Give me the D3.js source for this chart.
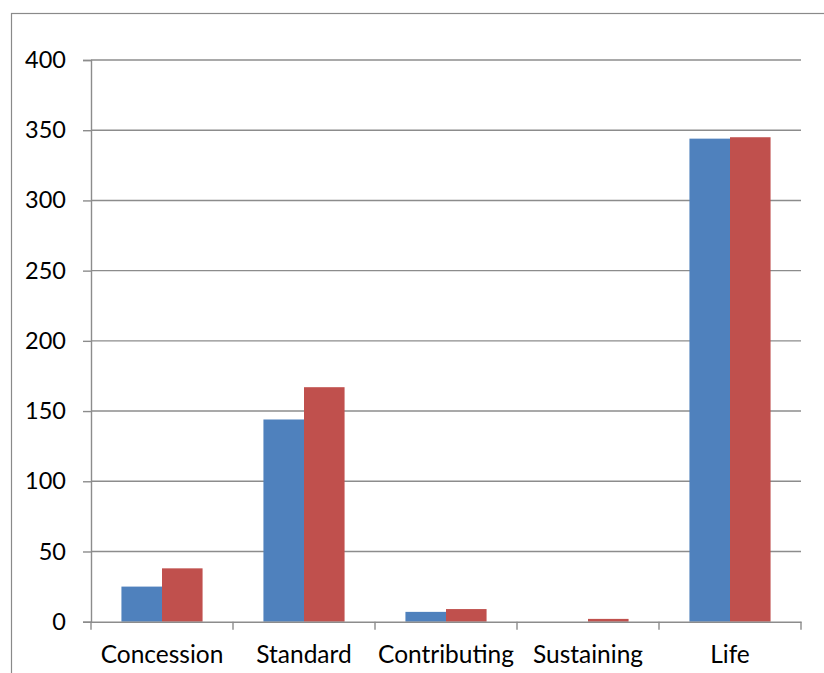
<!DOCTYPE html>
<html>
<head>
<meta charset="utf-8">
<script src="https://cdn.jsdelivr.net/npm/d3@7/dist/d3.min.js"></script>
<style>
  html, body { margin: 0; padding: 0; background: #fff; }
  svg { display: block; }
  text { font-family: Lato, "Open Sans", sans-serif; fill: #000; }
</style>
</head>
<body>
<svg id="chart" width="824" height="673"></svg>
<script>
// Membership counts by category, two series
const categories = ["Concession", "Standard", "Contributing", "Sustaining", "Life"];
const seriesA = [25, 144, 7, 0, 344];
const seriesB = [38, 167, 9, 2, 345];
const yTicks = [0, 50, 100, 150, 200, 250, 300, 350, 400];
const seriesColors = ["#4F81BD", "#C0504D"];

const svg = d3.select("#chart");
const margin = { left: 91, right: 801, top: 60, bottom: 621.7 };

// Outer chart frame
svg.append("rect")
  .attr("x", 11.5).attr("y", 13.5)
  .attr("width", 830).attr("height", 700)
  .attr("fill", "none").attr("stroke", "#8a8a8a").attr("stroke-width", 1.2);

const x0 = d3.scaleBand().domain(categories).range([margin.left, margin.right]).paddingInner(0).paddingOuter(0);
const x1 = d3.scaleBand().domain([0, 1]).range([0, x0.bandwidth()]).paddingOuter(0.75).paddingInner(0);
const y = d3.scaleLinear().domain([0, 400]).range([margin.bottom, margin.top]);

// Horizontal gridlines
svg.append("g").selectAll("line").data(yTicks.filter(d => d > 0)).join("line")
  .attr("x1", margin.left).attr("x2", margin.right)
  .attr("y1", d => y(d)).attr("y2", d => y(d))
  .attr("stroke", "#8c8c8c").attr("stroke-width", 1.4);

// Bars
const series = [seriesA, seriesB];
series.forEach((vals, s) => {
  svg.append("g").selectAll("rect").data(vals).join("rect")
    .attr("x", (d, i) => x0(categories[i]) + x1(s))
    .attr("width", x1.bandwidth())
    .attr("y", d => y(d))
    .attr("height", d => y(0) - y(d))
    .attr("fill", seriesColors[s]);
});

// Y axis
const yAxis = svg.append("g").attr("transform", `translate(${margin.left},0)`)
  .call(d3.axisLeft(y).tickValues(yTicks).tickSize(8).tickPadding(17));
yAxis.select(".domain").attr("stroke", "#8c8c8c").attr("stroke-width", 1.4);
yAxis.selectAll(".tick line").attr("stroke", "#8c8c8c").attr("stroke-width", 1.4);
yAxis.selectAll(".tick text").style("font-size", "23.5px").style("font-family", "Lato, sans-serif").attr("fill", "#000");

// X axis
const xAxis = svg.append("g").attr("transform", `translate(0,${margin.bottom})`)
  .call(d3.axisBottom(x0).tickSize(0));
xAxis.select(".domain").attr("stroke", "#8c8c8c").attr("stroke-width", 1.4);
xAxis.selectAll(".tick text")
  .attr("y", 41).attr("dy", 0)
  .style("font-size", "24.5px").style("font-family", "Lato, sans-serif").attr("fill", "#000");

// Category boundary ticks on the x axis
const bounds = categories.map(c => x0(c)).concat([margin.right]);
svg.append("g").selectAll("line").data(bounds).join("line")
  .attr("x1", d => d).attr("x2", d => d)
  .attr("y1", margin.bottom).attr("y2", margin.bottom + 8)
  .attr("stroke", "#8c8c8c").attr("stroke-width", 1.4);
</script>
</body>
</html>
